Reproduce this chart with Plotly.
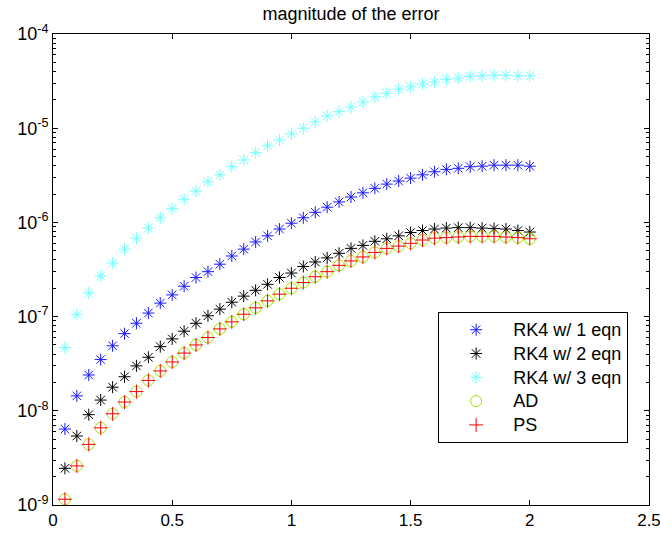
import plotly.graph_objects as go

x = [round(0.05 * i, 2) for i in range(1, 41)]

rk4_1 = [6.4e-9, 1.44e-8, 2.4e-8, 3.5e-8, 4.9e-8, 6.6e-8, 8.5e-8, 1.09e-7, 1.39e-7, 1.7e-7,
         2.1e-7, 2.6e-7, 3.0e-7, 3.6e-7, 4.4e-7, 5.2e-7, 6.2e-7, 7.2e-7, 8.5e-7, 9.8e-7,
         1.12e-6, 1.28e-6, 1.45e-6, 1.65e-6, 1.86e-6, 2.06e-6, 2.3e-6, 2.55e-6, 2.75e-6, 2.95e-6,
         3.2e-6, 3.45e-6, 3.65e-6, 3.75e-6, 3.9e-6, 3.95e-6, 4.05e-6, 4.05e-6, 4.05e-6, 3.95e-6]

rk4_2 = [2.45e-9, 5.4e-9, 9.1e-9, 1.3e-8, 1.78e-8, 2.3e-8, 3.0e-8, 3.7e-8, 4.8e-8, 5.8e-8,
         7.0e-8, 8.5e-8, 1.02e-7, 1.2e-7, 1.42e-7, 1.65e-7, 1.9e-7, 2.2e-7, 2.6e-7, 2.9e-7,
         3.4e-7, 3.8e-7, 4.2e-7, 4.7e-7, 5.3e-7, 5.7e-7, 6.3e-7, 6.7e-7, 7.2e-7, 7.8e-7,
         8.2e-7, 8.5e-7, 8.7e-7, 8.8e-7, 8.8e-7, 8.7e-7, 8.6e-7, 8.5e-7, 8.2e-7, 7.9e-7]

rk4_3 = [4.7e-8, 1.05e-7, 1.78e-7, 2.7e-7, 3.7e-7, 5.2e-7, 6.8e-7, 8.7e-7, 1.12e-6, 1.4e-6,
         1.76e-6, 2.15e-6, 2.7e-6, 3.2e-6, 3.9e-6, 4.6e-6, 5.5e-6, 6.5e-6, 7.5e-6, 8.7e-6,
         1.0e-5, 1.17e-5, 1.35e-5, 1.5e-5, 1.68e-5, 1.9e-5, 2.15e-5, 2.35e-5, 2.6e-5, 2.75e-5,
         2.95e-5, 3.1e-5, 3.3e-5, 3.4e-5, 3.55e-5, 3.6e-5, 3.65e-5, 3.65e-5, 3.6e-5, 3.6e-5]

ad = [1.15e-9, 2.6e-9, 4.4e-9, 6.6e-9, 9.3e-9, 1.24e-8, 1.6e-8, 2.1e-8, 2.65e-8, 3.3e-8,
      4.1e-8, 5.0e-8, 6.0e-8, 7.4e-8, 8.8e-8, 1.06e-7, 1.24e-7, 1.47e-7, 1.73e-7, 2.0e-7,
      2.3e-7, 2.65e-7, 3.0e-7, 3.5e-7, 3.9e-7, 4.3e-7, 4.8e-7, 5.3e-7, 5.6e-7, 6.0e-7,
      6.5e-7, 6.8e-7, 6.9e-7, 7.0e-7, 7.1e-7, 7.1e-7, 7.1e-7, 7.0e-7, 6.9e-7, 6.7e-7]

ps = list(ad)

names = ["RK4 w/ 1 eqn", "RK4 w/ 2 eqn", "RK4 w/ 3 eqn", "AD", "PS"]

y_tickvals = [1e-9, 1e-8, 1e-7, 1e-6, 1e-5, 1e-4]
y_ticktext = ["10<sup>-9</sup>", "10<sup>-8</sup>", "10<sup>-7</sup>", "10<sup>-6</sup>",
              "10<sup>-5</sup>", "10<sup>-4</sup>"]
x_tickvals = [0, 0.5, 1, 1.5, 2, 2.5]
x_ticktext = ["0", "0.5", "1", "1.5", "2", "2.5"]

minor_vals = [m * 10 ** e for e in range(-9, -4) for m in range(2, 10)]

fig = go.Figure()
series = [
    (rk4_1, names[0], "asterisk-open", "#1a1aff", 10),
    (rk4_2, names[1], "asterisk-open", "#000000", 10),
    (rk4_3, names[2], "asterisk-open", "#70ffff", 10),
    (ad, names[3], "circle-open", "#99e600", 11),
    (ps, names[4], "cross-thin-open", "#ff0000", 10),
]
for vals, nm, sym, col, sz in series:
    fig.add_trace(go.Scatter(
        x=x, y=vals, name='<span style="font-size:18px">' + nm + "</span>", mode="markers",
        marker=dict(symbol=sym, size=sz, color=col, line=dict(color=col, width=1)),
    ))

font = "Liberation Sans, Arial, Helvetica, sans-serif"
fig.update_layout(
    width=660, height=533,
    margin=dict(l=53, r=11, t=34, b=28, autoexpand=False),
    paper_bgcolor="white", plot_bgcolor="white",
    font=dict(family=font, size=18, color="black"),
    title=dict(text="magnitude of the error", x=0.5, xref="paper", xanchor="center",
               y=1 - 14 / 533, yref="container", yanchor="middle",
               font=dict(family=font, size=18, color="black")),
    showlegend=True,
    legend=dict(x=0.965, y=0.132, xanchor="right", yanchor="bottom",
                bgcolor="white", bordercolor="black", borderwidth=1,
                font=dict(family=font, size=16), itemwidth=64),
    xaxis=dict(range=[0, 2.5], tickvals=x_tickvals, ticktext=x_ticktext,
               ticks="inside", ticklen=5, tickcolor="black", showline=True,
               linecolor="black", linewidth=1, mirror="ticks", showgrid=False,
               zeroline=False, tickfont=dict(size=17), automargin=False,
               ticklabeloverflow="allow"),
    yaxis=dict(type="log", range=[-9, -4], tickvals=y_tickvals, ticktext=y_ticktext,
               ticks="inside", ticklen=5, tickcolor="black", showline=True,
               linecolor="black", linewidth=1, mirror="ticks", showgrid=False,
               zeroline=False, tickfont=dict(size=18),
               automargin=False, ticklabeloverflow="allow",
               minor=dict(tickvals=minor_vals, ticks="inside", ticklen=3,
                          tickcolor="black", showgrid=False)),
)

fig.write_html("out.html", config={"displayModeBar": False},
               post_script="document.body.style.margin='0px';")
